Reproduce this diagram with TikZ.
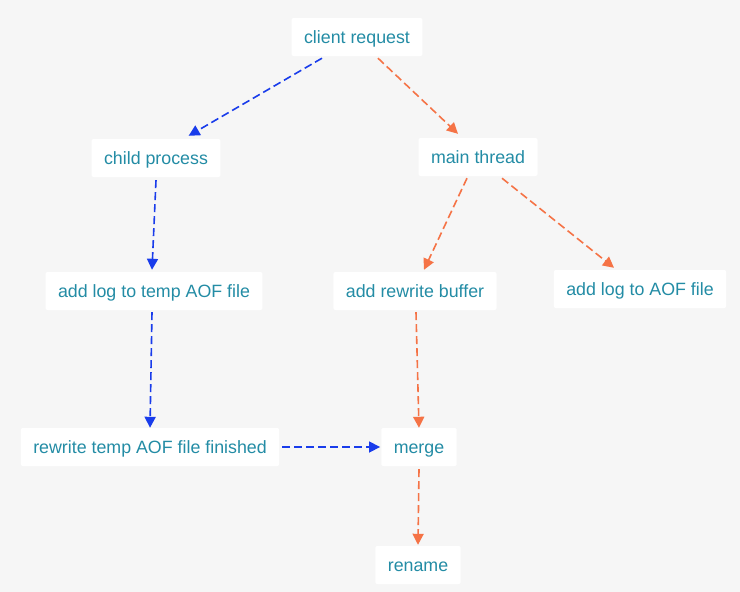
\documentclass[tikz,border=0pt]{standalone}
\usepackage{fontspec}
\setmainfont{Liberation Sans}
\definecolor{bggray}{RGB}{246, 246, 246}
\definecolor{tealtext}{RGB}{35, 140, 165}
\definecolor{blue1}{RGB}{25, 60, 235}
\definecolor{orange1}{RGB}{245, 115, 70}
\usetikzlibrary{arrows.meta, positioning}

\begin{document}
\begin{tikzpicture}[
  x=1pt, y=-1pt,
  box/.style={fill=white, rounded corners=2pt, minimum height=38pt, inner xsep=12.5pt,
              text height=15pt, text depth=2pt,
              text=tealtext, font=\fontsize{17.8}{21}\selectfont},
  bluearrow/.style={draw=blue1, line width=1.6pt, dash pattern=on 8pt off 4pt,
                    -{Triangle[length=11pt, width=11pt]}, blue1},
  orangearrow/.style={draw=orange1, line width=1.6pt, dash pattern=on 8pt off 4pt,
                      -{Triangle[length=11pt, width=11pt]}, orange1},
]
\useasboundingbox[fill=bggray] (0,0) rectangle (740,592);

% top
\node[box] (req) at (357, 37) {client request};

% child process side
\node[box] (child) at (156, 158) {child process};
\node[box] (templog) at (154, 291) {add log to temp AOF file};
\node[box] (finished) at (150, 447) {rewrite temp AOF file finished};

% main thread side
\node[box] (main) at (478, 157) {main thread};
\node[box] (buffer) at (415, 291) {add rewrite buffer};
\node[box] (aoflog) at (640, 289) {add log to AOF file};

% bottom
\node[box] (merge) at (419, 447) {merge};
\node[box] (rename) at (418, 565) {rename};

% blue arrows
\draw[bluearrow] ([xshift=-35pt, yshift=-2pt]req.south) -- ([xshift=-32pt, yshift=3pt]child.north east);
\draw[bluearrow] ([yshift=-3pt]child.south) -- ([xshift=-2pt, yshift=2pt]templog.north);
\draw[bluearrow] ([xshift=-2pt, yshift=-2pt]templog.south) -- (finished.north);
\draw[bluearrow] ([xshift=3pt]finished.east) -- ([xshift=-1pt]merge.west);

% orange arrows
\draw[orangearrow] ([xshift=21pt, yshift=-2pt]req.south) -- ([xshift=-20pt, yshift=4pt]main.north);
\draw[orangearrow] ([xshift=-11pt, yshift=-2pt]main.south) -- ([xshift=9pt, yshift=2pt]buffer.north);
\draw[orangearrow] ([xshift=24pt, yshift=-2pt]main.south) -- ([xshift=-26pt, yshift=2pt]aoflog.north);
\draw[orangearrow] ([xshift=1pt, yshift=-2pt]buffer.south) -- (merge.north);
\draw[orangearrow] ([yshift=-3pt]merge.south) -- ([yshift=1pt]rename.north);
\end{tikzpicture}
\end{document}
